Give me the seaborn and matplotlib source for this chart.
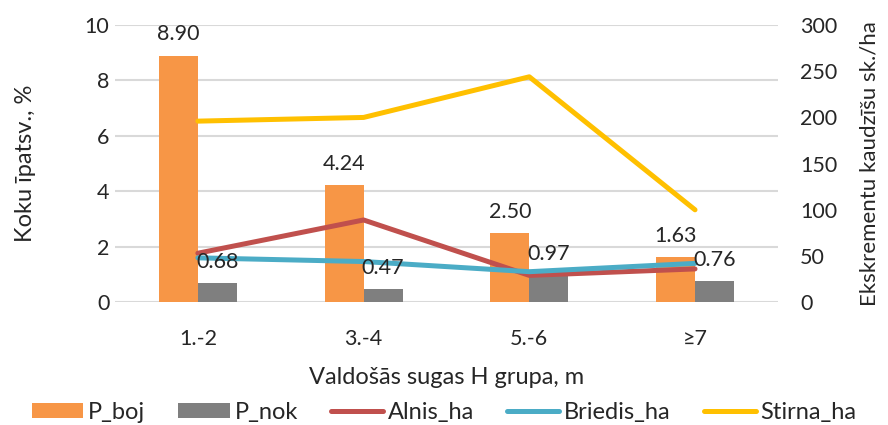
import matplotlib
matplotlib.use("Agg")
import matplotlib.pyplot as plt
from matplotlib.patches import Patch
from matplotlib.lines import Line2D
import seaborn as sns
import pandas as pd

# Height groups of the dominant species
groups = ["1.-2", "3.-4", "5.-6", "≥7"]

# Tree share, % (left axis)
p_boj = [8.90, 4.24, 2.50, 1.63]
p_nok = [0.68, 0.47, 0.97, 0.76]

# Pellet groups per ha (right axis)
alnis_ha = [53, 89, 29, 36]
briedis_ha = [48, 44, 33, 42]
stirna_ha = [196, 200, 244, 100]

bar_colors = {"P_boj": "#F79646", "P_nok": "#7F7F7F"}
line_colors = {"Alnis_ha": "#C0504D", "Briedis_ha": "#4BACC6", "Stirna_ha": "#FFC000"}

sns.set_theme(style="white")
plt.rcParams["font.family"] = ["Lato", "DejaVu Sans"]
plt.rcParams["font.size"] = 15
text_color = "#262626"
line_w = 3.6

bars = pd.DataFrame({
    "group": groups * 2,
    "series": ["P_boj"] * len(groups) + ["P_nok"] * len(groups),
    "value": p_boj + p_nok,
})
pos = list(range(len(groups)))
lines = pd.DataFrame({
    "pos": pos * 3,
    "series": ["Alnis_ha"] * 4 + ["Briedis_ha"] * 4 + ["Stirna_ha"] * 4,
    "value": alnis_ha + briedis_ha + stirna_ha,
})

fig = plt.figure(figsize=(8.88, 4.25), dpi=100)
ax = fig.add_axes([0.1295, 0.289, 0.7465, 0.652])

sns.barplot(data=bars, x="group", y="value", hue="series", order=groups,
            hue_order=["P_boj", "P_nok"], palette=bar_colors, width=0.47,
            saturation=1, ax=ax, legend=False, edgecolor="none")

ax.set_ylim(0, 10)
ax.set_yticks([0, 2, 4, 6, 8, 10])
ax.set_xlim(-0.5, len(groups) - 0.5)
ax.yaxis.grid(True, color="#D9D9D9", linewidth=1.5)
ax.set_axisbelow(True)
for s in ax.spines.values():
    s.set_visible(False)
ax.tick_params(axis="y", length=0, labelsize=15.5, colors=text_color, pad=4)
ax.tick_params(axis="x", length=0, labelsize=15.5, colors=text_color, pad=19)
ax.set_xlabel("Valdošās sugas H grupa, m", fontsize=17, color=text_color, labelpad=13)
ax.set_ylabel("Koku īpatsv., %", fontsize=17, color=text_color, labelpad=35)

ax2 = ax.twinx()
sns.lineplot(data=lines, x="pos", y="value", hue="series",
             hue_order=["Alnis_ha", "Briedis_ha", "Stirna_ha"],
             palette=line_colors, linewidth=line_w, ax=ax2, legend=False)
ax2.set_ylim(0, 300)
ax2.set_yticks(range(0, 301, 50))
ax2.set_xlim(-0.5, len(groups) - 0.5)
for s in ax2.spines.values():
    s.set_visible(False)
ax2.grid(False)
ax2.tick_params(axis="y", length=0, labelsize=15.5, colors=text_color, pad=16)
ax2.set_ylabel("Ekskrementu kaudzīšu sk./ha", fontsize=16, color=text_color, labelpad=16)

# Value labels above every bar, drawn on top of the lines
for patch in ax.patches:
    h = patch.get_height()
    if h <= 0:
        continue
    x = patch.get_x() + patch.get_width() / 2
    ax2.annotate(f"{h:.2f}", xy=(x, h), xycoords=ax.transData,
                 xytext=(0, 8), textcoords="offset points",
                 ha="center", va="bottom", fontsize=15.5, color=text_color)

handles = [Patch(facecolor=bar_colors[k], edgecolor="none", label=k) for k in ["P_boj", "P_nok"]]
handles += [Line2D([], [], color=line_colors[k], linewidth=line_w, label=k)
            for k in ["Alnis_ha", "Briedis_ha", "Stirna_ha"]]
fig.legend(handles=handles, loc="lower center", bbox_to_anchor=(0.5, -0.045), ncol=5,
           frameon=False, fontsize=17, handlelength=2.2, handleheight=0.65,
           handletextpad=0.2, columnspacing=1.4, labelcolor=text_color)

fig.savefig("out.png", dpi=100)
